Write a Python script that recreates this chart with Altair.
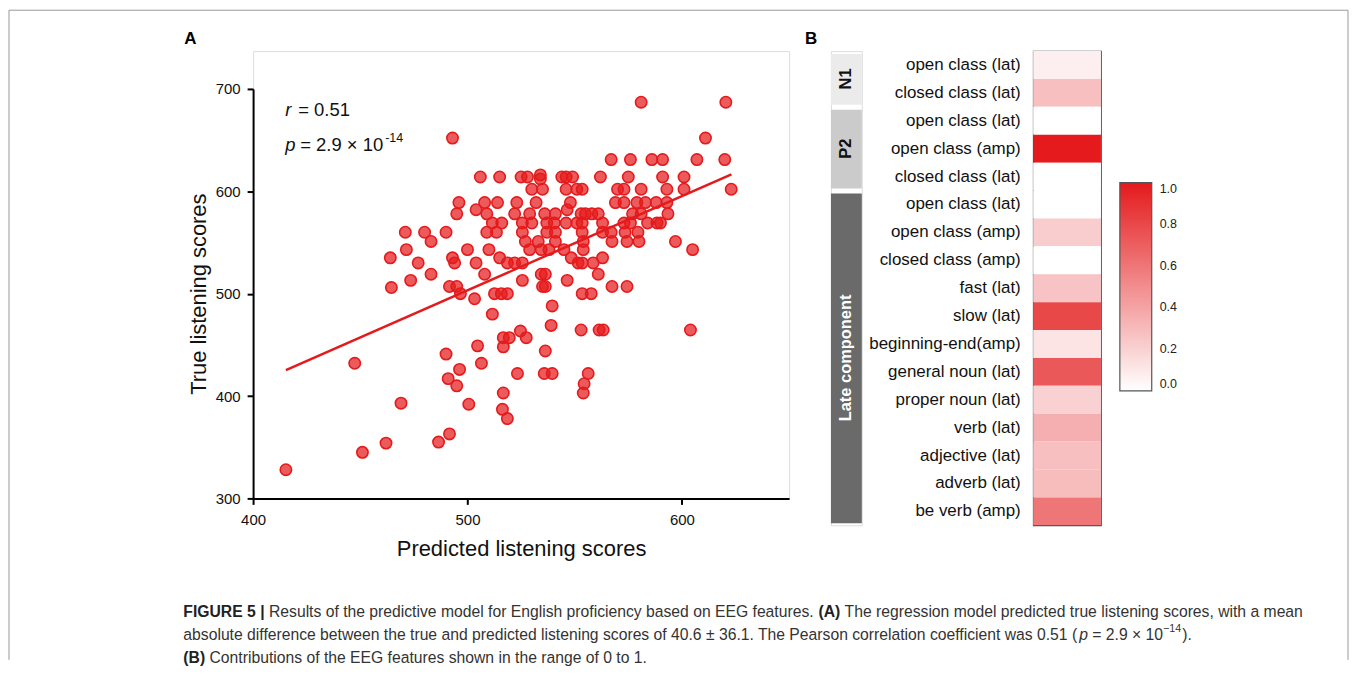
import altair as alt
import pandas as pd

RED = "#e41a1c"

# ---------------- Panel A: predicted vs true listening scores ----------------
pred = [
    581, 620.5,
    493, 611,
    567, 576, 586, 591, 607, 620,
    506, 515, 525, 528, 534, 534, 544, 546, 549, 562, 575, 591, 601,
    530, 535, 546, 551, 553.5, 570, 573, 581, 593, 601, 623,
    496, 508, 514, 523, 532, 548, 569, 573, 579, 583, 588, 593,
    495, 504, 509, 522, 529, 536, 541, 546.5, 553, 555, 558, 561, 577, 581, 593.5,
    511.6, 516, 525.6, 530, 537, 540.5, 546, 551, 553.5, 563, 573, 576, 584, 588.4, 590,
    490, 509, 513.5, 525.6, 537, 541, 553.5, 563, 567, 573.5, 579.5,
    527, 533, 541, 554, 567.4, 574.4, 580, 597,
    500, 510, 529, 534.4, 538, 545, 554, 605,
    493, 515, 548.4, 563,
    494, 504, 518.6, 522, 525.6, 551.6, 553.5, 558.6,
    508, 534.4, 536.3, 561,
    525.6, 546.5,
    491.6, 495, 535, 536.3, 567.4, 574.4,
    496.7, 512.6, 515.8, 518.6, 553.5, 557.7,
    503.3,
    471, 480, 483, 471.5, 464, 477, 473.5, 483, 464.5,
    511.6, 447.4, 490, 504.7, 506.5, 496.3, 491, 495, 469, 500.6, 491.6, 486.5, 462, 451, 415.3,
    539.5, 539, 524.7, 516.7, 519.5, 527.4, 516.7, 553, 561.4, 563.3, 604, 536.3,
    523.3, 535.8, 539.5, 556.3, 554.4, 554, 516.7, 516.3, 518.6,
]
true = [
    687, 687,
    652, 652,
    631, 631, 631, 631, 631, 631,
    614, 614, 614, 614, 616, 612, 614, 614, 614, 614, 614, 614, 614,
    602, 602, 602, 602, 602, 602, 602, 602, 602, 602, 602,
    589, 589, 589, 589, 589, 589, 589, 589, 589, 589, 589, 589,
    578, 582, 578, 578, 578, 578, 578, 582, 578, 578, 578, 578, 578, 578, 578,
    569, 569, 569, 569, 569, 569, 569, 569, 569, 569, 569, 569, 569, 569, 569,
    560, 560, 560, 560, 560, 560, 560, 560, 560, 560, 560,
    551, 551, 551, 551, 551, 551, 551, 551,
    543, 543, 543, 543, 543, 543, 543, 543,
    535, 535, 535, 535,
    530, 530, 530, 530, 530, 530, 530, 530,
    519, 519, 519, 519,
    513, 513,
    507, 507, 507, 507, 507, 507,
    500, 500, 500, 500, 500, 500,
    495,
    560, 560, 551, 543, 535, 530, 513, 519, 506,
    480, 432, 441, 449, 432, 426, 417, 410, 393, 392, 363, 355, 354, 345, 328,
    488, 469, 463.5, 457, 457, 457, 448, 464.5, 464.5, 464.5, 464.5, 444,
    422, 422, 422, 422, 412, 403, 403, 387, 378,
]
fit_x = [415.3, 623.1]
fit_y = [425.3, 616.6]
x_ticks = [400, 500, 600]
y_ticks = [300, 400, 500, 600, 700]

# ---------------- Panel B: feature contributions ----------------
features = [
    "open class (lat)", "closed class (lat)", "open class (lat)", "open class (amp)",
    "closed class (lat)", "open class (lat)", "open class (amp)", "closed class (amp)",
    "fast (lat)", "slow (lat)", "beginning-end(amp)", "general noun (lat)",
    "proper noun (lat)", "verb (lat)", "adjective (lat)", "adverb (lat)", "be verb (amp)",
]
contrib = [0.07, 0.28, 0.0, 1.0, 0.0, 0.0, 0.22, 0.0, 0.26, 0.8, 0.12, 0.73,
           0.2, 0.35, 0.28, 0.29, 0.6]
groups = ["N1", "P2", "Late component"]
group_start = [0, 2, 5]
group_end = [2, 5, 17]
group_colors = ["#ebebeb", "#cbcbcb", "#6a6a6a"]
legend_ticks = [0.0, 0.2, 0.4, 0.6, 0.8, 1.0]

caption_line1 = [("FIGURE 5 |", "b"), (" Results of the predictive model for English proficiency based on EEG features. ", "r"),
                 ("(A)", "b"), (" The regression model predicted true listening scores, with a mean", "r")]
caption_line2 = [("absolute difference between the true and predicted listening scores of 40.6 ± 36.1. "
                  "The Pearson correlation coefficient was 0.51 (", "r"), ("p", "i"), (" = 2.9 × 10", "r"),
                 ("−14", "s"), (").", "r")]
caption_line3 = [("(B)", "b"), (" Contributions of the EEG features shown in the range of 0 to 1.", "r")]

FONT = "Liberation Sans"

# Arial / Liberation Sans advance widths (1/1000 em) used to lay text segments side by side
_REG = dict(zip(" (),-.=|±×−", [278, 333, 333, 278, 333, 278, 584, 260, 584, 584, 584]))
_REG.update({d: 556 for d in "0123456789"})
_REG.update(dict(zip("ABCDEFGHIJKLMNOPQRSTUVWXYZ",
                     [667, 667, 722, 722, 667, 611, 778, 722, 278, 500, 667, 556, 833, 722, 778, 667,
                      778, 722, 667, 611, 722, 667, 944, 667, 667, 611])))
_REG.update(dict(zip("abcdefghijklmnopqrstuvwxyz",
                     [556, 556, 500, 556, 556, 278, 556, 556, 222, 222, 500, 222, 833, 556, 556, 556,
                      556, 333, 500, 278, 556, 500, 722, 500, 500, 500])))
_BOLD = dict(_REG)
_BOLD.update(dict(zip("ABEFGIRU()|", [722, 722, 667, 611, 778, 278, 722, 722, 333, 333, 280])))


def tw(s, size, bold=False):
    t = _BOLD if bold else _REG
    return sum(t.get(c, 556) for c in s) * size / 1000.0


one = pd.DataFrame({"k": [0]})


def txt(s, x, y, size=14.5, weight="normal", style="normal", color="#333333",
        align="left", angle=0, baseline="middle"):
    return alt.Chart(one).mark_text(
        text=s, fontSize=size, fontWeight=weight, fontStyle=style, color=color,
        align=align, baseline=baseline, angle=angle, font=FONT,
    ).encode(x=alt.value(x), y=alt.value(y))


def line_layers(parts, x0, y, size):
    layers = []
    x = x0
    for s, kind in parts:
        sz = size * 0.68 if kind == "s" else size
        bold = kind == "b"
        lead = len(s) - len(s.lstrip(" "))
        trail = len(s) - len(s.rstrip(" "))
        core = s.strip(" ")
        x += lead * tw(" ", sz)
        layers.append(txt(core, x, y - (6 if kind == "s" else 0), size=sz,
                          weight="bold" if bold else "normal",
                          style="italic" if kind == "i" else "normal",
                          color="#222222" if bold else "#333333"))
        x += tw(core, sz, bold) + trail * tw(" ", sz) + (1 if kind == "s" else 0)
    return layers


def rule(**enc):
    return alt.Chart(one).mark_rule(color="#9a9a9a", strokeWidth=1).encode(**enc)


# ---- scatter ----
sc_df = pd.DataFrame({"pred": pred, "true": true})
xscale = alt.Scale(domain=[400, 650], nice=False)
yscale = alt.Scale(domain=[300, 700], nice=False, range=[449, 38])
axis_style = dict(grid=False, labelFontSize=15, labelColor="#111", titleFontSize=22,
                  titleFontWeight="normal", titleColor="#111", domainColor="#000", domainWidth=2,
                  tickColor="#000", tickWidth=2, tickSize=6, labelFlush=False, labelFont=FONT,
                  titleFont=FONT)

points = alt.Chart(sc_df).mark_circle(
    size=130, color=RED, fillOpacity=0.72, stroke=RED, strokeWidth=1.6, opacity=1
).encode(
    x=alt.X("pred:Q", scale=xscale, axis=alt.Axis(
        values=x_ticks, title="Predicted listening scores", labelPadding=8, titlePadding=11, **axis_style)),
    y=alt.Y("true:Q", scale=yscale, axis=alt.Axis(
        values=y_ticks, title="True listening scores", labelPadding=7, titlePadding=5, **axis_style)),
)

fit = alt.Chart(pd.DataFrame({"pred": fit_x, "true": fit_y})).mark_line(
    color=RED, strokeWidth=2.5
).encode(x="pred:Q", y="true:Q")

ANN = 18.5


def ann(s, dx, dy=0, size=ANN, style="normal", yv=679.6):
    return alt.Chart(one).mark_text(
        text=s, fontSize=size, fontStyle=style, align="left", baseline="middle",
        dx=dx, dy=dy, color="#111", font=FONT,
    ).encode(x=alt.X(datum=415, type="quantitative"),
             y=alt.Y(datum=yv, type="quantitative"))


annotations = [
    ann("r", 0, style="italic"),
    ann("= 0.51", 13),
    ann("p", 0, style="italic", yv=645.5),
    ann("= 2.9 × 10", 15, yv=645.5),
    ann("-14", 15 + tw("= 2.9 × 10", ANN) + 2, dy=-7, size=12.5, yv=645.5),
]

# frame and caption (decorations, positioned relative to the scatter view)
frame = [
    rule(x=alt.value(-245), x2=alt.value(1099), y=alt.value(-41)),
    rule(x=alt.value(-245), y=alt.value(-41), y2=alt.value(611)),
    rule(x=alt.value(1099), y=alt.value(-41), y2=alt.value(611)),
]
line1_width = sum(tw(s, 1000, k == "b") for s, k in caption_line1) / 1000.0
CAP = 1124.0 / line1_width
caption = (line_layers(caption_line1, -70, 563, CAP)
           + line_layers(caption_line2, -70, 586, CAP)
           + line_layers(caption_line3, -70, 609, CAP))

label_a = txt("A", -63, -12, size=17, weight="bold", color="#000", align="center")

scatter = alt.layer(points, fit, *annotations, label_a, *frame, *caption).properties(
    width=538, height=449
)

# ---- group bars ----
gdf = pd.DataFrame({"group": groups, "start": group_start, "end": group_end})
gscale = alt.Scale(domain=[0, 17], range=[0, 476], nice=False)
gbars = alt.Chart(gdf).mark_rect(yOffset=3, y2Offset=-2).encode(
    x=alt.value(0), x2=alt.value(31),
    y=alt.Y("start:Q", scale=gscale, axis=None),
    y2="end:Q",
    color=alt.Color("group:N", scale=alt.Scale(domain=groups, range=group_colors), legend=None),
)
gtext = alt.Chart(gdf).transform_calculate(
    mid="(datum.start + datum.end) / 2"
).mark_text(angle=270, fontSize=16.5, fontWeight="bold", baseline="middle", align="center", font=FONT).encode(
    x=alt.value(15.5),
    y=alt.Y("mid:Q", scale=gscale, axis=None),
    text="group:N",
    color=alt.condition(alt.datum.group == "Late component", alt.value("#ffffff"), alt.value("#111111")),
)
label_b = txt("B", -20, -12, size=17, weight="bold", color="#000", align="center")
group_panel = alt.layer(gbars, gtext, label_b).properties(width=31, height=476)

# ---- heatmap ----
hdf = pd.DataFrame({"idx": list(range(len(features))), "feature": features, "value": contrib})
label_expr = "[" + ",".join("'" + f + "'" for f in features) + "][datum.value]"
heat = alt.Chart(hdf).mark_rect().encode(
    x=alt.value(0), x2=alt.value(68),
    y=alt.Y("idx:O", title=None, scale=alt.Scale(paddingInner=0, paddingOuter=0),
            axis=alt.Axis(labelExpr=label_expr, ticks=False, domain=False, labelPadding=13,
                          labelFontSize=17, labelColor="#111", labelLimit=400, labelFont=FONT)),
    color=alt.Color("value:Q", title=None,
                    scale=alt.Scale(domain=[0, 1], range=["#ffffff", RED], interpolate="rgb"),
                    legend=alt.Legend(orient="none", legendX=87, legendY=132, direction="vertical",
                                      gradientLength=209, gradientThickness=32, values=legend_ticks,
                                      format=".1f", labelFontSize=12.5, labelColor="#222",
                                      labelOffset=8, labelBaseline="middle", gradientStrokeColor="#555",
                                      gradientStrokeWidth=1.2, padding=0, labelFont=FONT)),
).properties(width=68, height=476, view=alt.ViewBackground(stroke="#444444", strokeWidth=1.2))

right = alt.hconcat(group_panel, heat, spacing=172, bounds="flush")
chart = alt.hconcat(scatter, right, spacing=42, bounds="flush").properties(
    padding=0
).configure_view(strokeWidth=0).configure(font=FONT)

chart.save("out.html", embed_options={"renderer": "svg", "actions": False})
